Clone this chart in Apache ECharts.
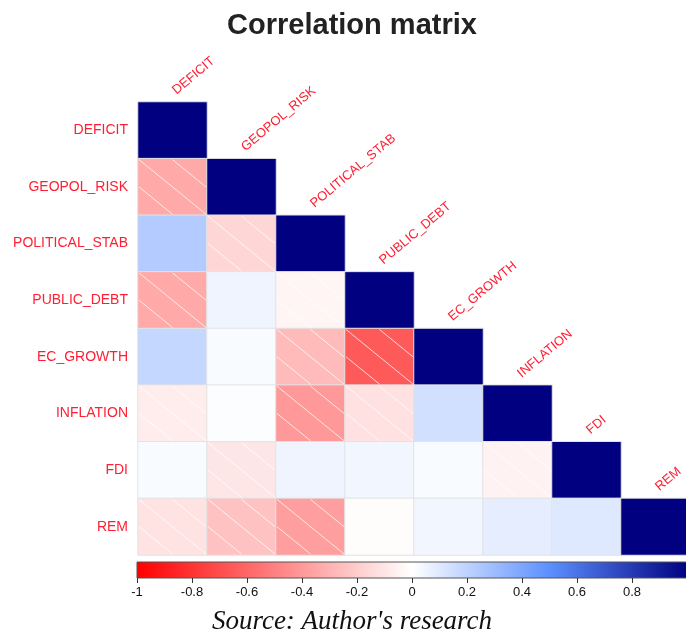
<!DOCTYPE html>
<html>
<head>
<meta charset="utf-8">
<script src="https://cdn.jsdelivr.net/npm/echarts@6/dist/echarts.min.js"></script>
<style>html,body{margin:0;padding:0;background:#fff}#c{width:686px;height:634px}</style>
</head>
<body>
<div id="c"></div>
<script>
const variables = ['DEFICIT','GEOPOL_RISK','POLITICAL_STAB','PUBLIC_DEBT','EC_GROWTH','INFLATION','FDI','REM'];
// lower-triangle correlations, row by row (columns in the same order as variables)
const corrDEFICIT   = [1];
const corrGEOPOL    = [-0.34, 1];
const corrPOLITICAL = [0.23, -0.16, 1];
const corrPUBDEBT   = [-0.34, 0.05, -0.04, 1];
const corrECGROWTH  = [0.18, 0.02, -0.27, -0.65, 1];
const corrINFLATION = [-0.07, 0.01, -0.40, -0.12, 0.14, 1];
const corrFDI       = [0.02, -0.10, 0.05, 0.04, 0.02, -0.05, 1];
const corrREM       = [-0.11, -0.24, -0.38, -0.01, 0.04, 0.08, 0.10, 1];
const lowerRows = [corrDEFICIT, corrGEOPOL, corrPOLITICAL, corrPUBDEBT, corrECGROWTH, corrINFLATION, corrFDI, corrREM];
const colorbarTicks = [-1, -0.8, -0.6, -0.4, -0.2, 0, 0.2, 0.4, 0.6, 0.8];

const paletteStops = ['#FF0000', '#FF8080', '#FFFFFF', '#5C8FFF', '#000080'];
const labelRed = '#FF1E32';

const cells = [];
lowerRows.forEach((row, r) => row.forEach((v, c) => cells.push([c, r, v])));
const hatched = cells.filter(d => d[2] < -0.02);
const diagLabels = variables.map((name, i) => [i, i, name]);

const chart = echarts.init(document.getElementById('c'));
chart.setOption({
  animation: false,
  backgroundColor: '#fff',
  graphic: [
    { type: 'text', x: 352, y: 11, style: { text: 'Correlation matrix', font: 'bold 29px "Liberation Sans", Arial, sans-serif', fill: '#222', textAlign: 'center', textVerticalAlign: 'top' } },
    { type: 'text', x: 352, y: 608, style: { text: "Source: Author's research", font: 'italic 27px "Liberation Serif", "Times New Roman", serif', fill: '#111', textAlign: 'center', textVerticalAlign: 'top' } }
  ],
  grid: [
    { left: 138, top: 102, right: -4, height: 453, containLabel: false, outerBoundsMode: 'none' },
    { left: 137, top: 562, right: -1, height: 16, show: true, borderColor: '#555', borderWidth: 1, outerBoundsMode: 'none',
      backgroundColor: new echarts.graphic.LinearGradient(0, 0, 1, 0, paletteStops.map((c, i) => ({ offset: i / (paletteStops.length - 1), color: c }))) }
  ],
  xAxis: [
    { type: 'category', data: variables, gridIndex: 0, show: false },
    { type: 'value', gridIndex: 1, min: -1, max: 1, interval: 0.2,
      axisLine: { show: false }, splitLine: { show: false },
      axisTick: { show: true, length: 5, lineStyle: { color: '#333' }, customValues: colorbarTicks },
      axisLabel: { color: '#111', fontSize: 13, fontFamily: '"Liberation Sans", Arial, sans-serif', margin: 8,
        customValues: colorbarTicks, formatter: v => String(Math.round(v * 10) / 10) } }
  ],
  yAxis: [
    { type: 'category', data: variables, gridIndex: 0, inverse: true,
      axisLine: { show: false }, axisTick: { show: false }, splitLine: { show: false },
      axisLabel: { color: labelRed, fontSize: 14, fontFamily: '"Liberation Sans", Arial, sans-serif', margin: 10 } },
    { type: 'value', gridIndex: 1, show: false }
  ],
  visualMap: { show: false, type: 'continuous', min: -1, max: 1, dimension: 2, seriesIndex: 0, inRange: { color: paletteStops } },
  series: [
    { type: 'heatmap', xAxisIndex: 0, yAxisIndex: 0, data: cells, silent: true,
      itemStyle: { borderColor: '#E3E3E3', borderWidth: 1 } },
    { type: 'custom', xAxisIndex: 0, yAxisIndex: 0, data: hatched, silent: true, z: 5,
      renderItem: (params, api) => {
        const p = api.coord([api.value(0), api.value(1)]);
        const s = api.size([1, 1]);
        const x0 = p[0] - s[0] / 2, x1 = p[0] + s[0] / 2, y0 = p[1] - s[1] / 2, y1 = p[1] + s[1] / 2;
        const xm = p[0], ym = p[1];
        const st = { stroke: 'rgba(255,255,255,0.75)', lineWidth: 1 };
        return { type: 'group', children: [
          { type: 'line', shape: { x1: x0 + 1, y1: y0 + 1, x2: x1 - 1, y2: y1 - 1 }, style: st },
          { type: 'line', shape: { x1: xm, y1: y0 + 1, x2: x1 - 1, y2: ym }, style: st },
          { type: 'line', shape: { x1: x0 + 1, y1: ym, x2: xm, y2: y1 - 1 }, style: st }
        ] };
      } },
    { type: 'custom', xAxisIndex: 0, yAxisIndex: 0, data: diagLabels, silent: true, z: 6, clip: false,
      renderItem: (params, api) => {
        const p = api.coord([api.value(0), api.value(1)]);
        const s = api.size([1, 1]);
        return { type: 'text', x: p[0] + 6, y: p[1] - s[1] / 2 - 5, rotation: 40 * Math.PI / 180,
          style: { text: variables[params.dataIndex], font: '13px "Liberation Sans", Arial, sans-serif', fill: labelRed, textAlign: 'left', textVerticalAlign: 'bottom' } };
      } }
  ]
});
</script>
</body>
</html>
